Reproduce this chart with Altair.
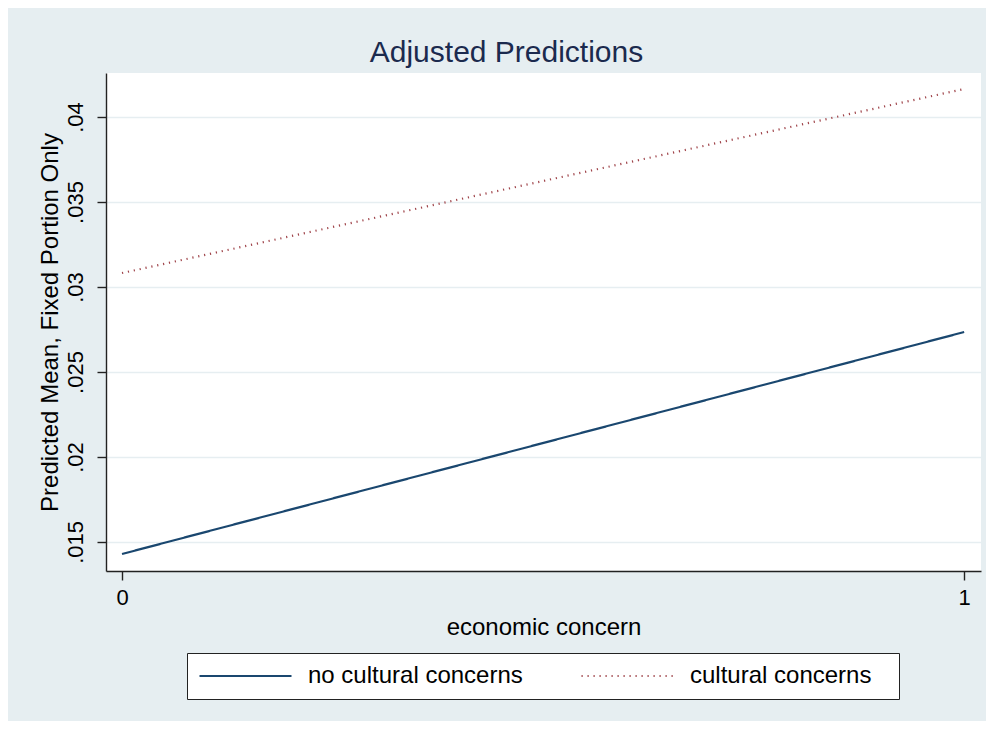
import altair as alt
import pandas as pd

# Data
categories = ["no cultural concerns", "cultural concerns"]
econ_concern = [0, 1]
no_cultural = [0.01429, 0.02735]
cultural = [0.03082, 0.04165]
y_ticks = [0.015, 0.02, 0.025, 0.03, 0.035, 0.04]
x_ticks = [0, 1]

rows = []
for x, v in zip(econ_concern, no_cultural):
    rows.append({"econ": x, "pred": v, "series": categories[0]})
for x, v in zip(econ_concern, cultural):
    rows.append({"econ": x, "pred": v, "series": categories[1]})
df = pd.DataFrame(rows)

FONT = "Liberation Sans"
BG = "#E6EEF1"

legend_props = dict(
    orient="none",
    legendX=81,
    legendY=580,
    direction="horizontal",
    title=" ",
    titleOrient="right",
    titlePadding=17,
    titleFontSize=24,
    titleFont=FONT,
    symbolType="stroke",
    symbolSize=8464,
    symbolStrokeWidth=2.2,
    labelFontSize=24,
    labelFont=FONT,
    labelColor="#000000",
    labelOffset=15,
    labelLimit=400,
    columnPadding=57,
    padding=11,
    strokeColor="#222222",
    fillColor="#FFFFFF",
    clipHeight=24,
    gridAlign="each",
)

chart = (
    alt.Chart(df)
    .mark_line(strokeWidth=2.2)
    .encode(
        x=alt.X(
            "econ:Q",
            scale=alt.Scale(domain=[-0.019, 1.02], nice=False, zero=False),
            axis=alt.Axis(
                values=x_ticks,
                title="economic concern",
                grid=False,
                format="d",
                labelBaseline="alphabetic",
                labelPadding=24,
                labelAlign="center",
                titleBaseline="alphabetic",
                titleY=63,
                titleX=437.5,
                titleAlign="center",
            ),
        ),
        y=alt.Y(
            "pred:Q",
            scale=alt.Scale(domain=[0.01329, 0.04259], nice=False, zero=False),
            axis=alt.Axis(
                values=y_ticks,
                title="Predicted Mean, Fixed Portion Only",
                grid=True,
                labelExpr="replace(format(datum.value, '.3~f'), '0.', '.')",
                labelAngle=270,
                labelAlign="center",
                labelBaseline="alphabetic",
                labelPadding=15,
                titleAngle=270,
                titleX=-49,
                titleY=249,
                titleAlign="center",
                titleBaseline="alphabetic",
            ),
        ),
        color=alt.Color(
            "series:N",
            scale=alt.Scale(domain=categories, range=["#1A476F", "#A0454B"]),
            legend=alt.Legend(**legend_props),
        ),
        strokeDash=alt.StrokeDash(
            "series:N",
            scale=alt.Scale(domain=categories, range=[[1, 0], [1.2, 4.8]]),
            legend=alt.Legend(**legend_props),
        ),
    )
    .properties(
        width=875,
        height=498,
        autosize=alt.AutoSizeParams(type="none"),
        padding={"left": 98, "top": 65, "right": 5, "bottom": 150},
        background=BG,
        title=alt.TitleParams(
            "Adjusted Predictions",
            fontSize=30,
            font=FONT,
            fontWeight="normal",
            color="#1B2A4E",
            anchor="middle",
            frame="group",
            dx=-37,
            dy=30,
            offset=11,
            baseline="alphabetic",
        ),
    )
    .configure_view(fill="#FFFFFF", strokeWidth=0)
    .configure_axis(
        domainColor="#222222",
        domainWidth=1.4,
        tickColor="#222222",
        tickWidth=1.4,
        tickSize=9,
        labelFont=FONT,
        labelFontSize=22,
        labelColor="#000000",
        titleFont=FONT,
        titleFontSize=24,
        titleFontWeight="normal",
        titleColor="#000000",
        gridColor=BG,
        gridWidth=1.5,
    )
)

chart.save("out.html", embed_options={"renderer": "svg", "actions": False})
